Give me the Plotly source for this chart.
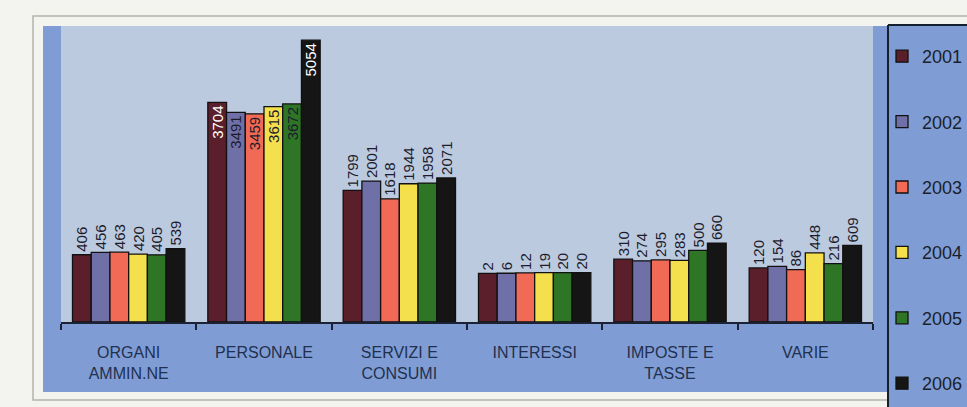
import plotly.graph_objects as go

categories = ["ORGANI<br>AMMIN.NE", "PERSONALE", "SERVIZI E<br>CONSUMI",
              "INTERESSI", "IMPOSTE E<br>TASSE", "VARIE"]
years = ["2001", "2002", "2003", "2004", "2005", "2006"]
v2001 = [406, 3704, 1799, 2, 310, 120]
v2002 = [456, 3491, 2001, 6, 274, 154]
v2003 = [463, 3459, 1618, 12, 295, 86]
v2004 = [420, 3615, 1944, 19, 283, 448]
v2005 = [405, 3672, 1958, 20, 500, 216]
v2006 = [539, 5054, 2071, 20, 660, 609]
series = [v2001, v2002, v2003, v2004, v2005, v2006]
colors = ["#5b1f2b", "#7070a8", "#f06a55", "#f4e04c", "#2e7526", "#151515"]
inside_text_colors = ["#ffffff", "#1c1c2c", "#1c1c2c", "#1c1c2c", "#1c1c2c", "#ffffff"]
inside_category = "PERSONALE"

# value axis starts below zero (bars grow from the axis minimum)
AXIS_MIN = -1050
AXIS_MAX = 5360

W, H = 967, 407
ML, MR, MT, MB = 61, 94, 26, 85
PW, PH = W - ML - MR, H - MT - MB


def px(x):
    return (x - ML) / PW


def py(y):
    return (H - MB - y) / PH


fig = go.Figure()
for yr, vals, col, itc in zip(years, series, colors, inside_text_colors):
    positions = ["inside" if c == inside_category else "outside" for c in categories]
    fig.add_trace(go.Bar(
        name=yr, x=categories, y=[v - AXIS_MIN for v in vals], base=AXIS_MIN,
        text=[str(v) for v in vals], texttemplate="%{text}",
        textposition=positions, textangle=-90, insidetextanchor="end",
        constraintext="none", cliponaxis=False,
        insidetextfont=dict(color=itc, size=15, family="Liberation Sans, Arial"),
        outsidetextfont=dict(color="#1c1c2c", size=15, family="Liberation Sans, Arial"),
        marker=dict(color=col, line=dict(color="#111111", width=1.3)),
        legendgroup=yr,
    ))

shapes = [
    # outer frame
    dict(type="rect", xref="paper", yref="paper", x0=px(33), x1=px(970), y0=py(400), y1=py(16),
         line=dict(color="#b4b4ac", width=1.5), fillcolor="rgba(0,0,0,0)", layer="below"),
    # chart area
    dict(type="rect", xref="paper", yref="paper", x0=px(43), x1=px(970), y0=py(392), y1=py(26),
         line=dict(width=0), fillcolor="#7f9dd4", layer="below"),
    # legend area
    dict(type="rect", xref="paper", yref="paper", x0=px(888), x1=px(970), y0=py(410), y1=py(25),
         line=dict(width=0), fillcolor="#7f9dd4", layer="below"),
    # plot area
    dict(type="rect", xref="paper", yref="paper", x0=0, x1=1, y0=0, y1=1,
         line=dict(width=0), fillcolor="#bccadf", layer="below"),
    # legend frame lines
    dict(type="line", xref="paper", yref="paper", x0=px(888), x1=px(888), y0=py(410), y1=py(25),
         line=dict(color="#15202e", width=2)),
    dict(type="line", xref="paper", yref="paper", x0=px(888), x1=px(970), y0=py(25), y1=py(25),
         line=dict(color="#15202e", width=2)),
]

fig.update_layout(
    width=W, height=H,
    margin=dict(l=ML, r=MR, t=MT, b=MB, pad=0, autoexpand=False),
    paper_bgcolor="#f3f3ef", plot_bgcolor="#bccadf",
    barmode="group", bargap=0.17, bargroupgap=0,
    font=dict(family="Liberation Sans, Arial", color="#1f3050"),
    shapes=shapes,
    showlegend=True,
    legend=dict(xref="container", yref="container", x=882 / W, xanchor="left",
                y=(H - 38) / H, yanchor="top",
                bgcolor="rgba(0,0,0,0)", borderwidth=0,
                font=dict(size=18, color="#1a1f2e"),
                tracegroupgap=39, itemwidth=30, maxheight=400),
    xaxis=dict(showline=True, linecolor="#1a2233", linewidth=2,
               ticks="outside", tickson="boundaries", ticklen=6, tickwidth=2,
               tickcolor="#1a2233", tickfont=dict(size=16, color="#1f3050"),
               showgrid=False, ticklabelstandoff=15),
    yaxis=dict(visible=False, range=[AXIS_MIN, AXIS_MAX], showgrid=False, zeroline=False),
)

fig.write_html("out.html")
